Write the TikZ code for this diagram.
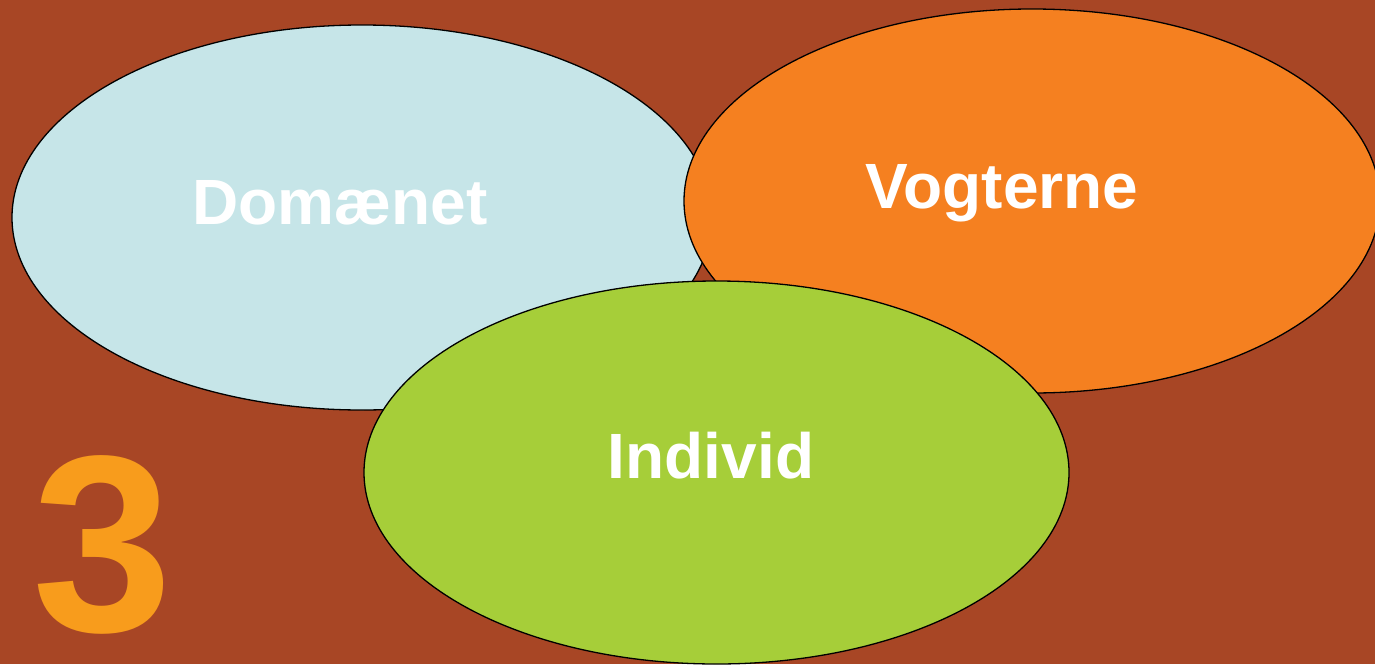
\documentclass[tikz,border=0pt]{standalone}
\usepackage{fontspec}
\setmainfont{Liberation Sans}
\definecolor{bgc}{HTML}{A84625}
\definecolor{bluec}{HTML}{C6E5E8}
\definecolor{orangec}{HTML}{F58020}
\definecolor{greenc}{HTML}{A6CE39}
\definecolor{threec}{HTML}{F89C1C}
\tikzset{
  blob/.style={draw=black, line width=1.3pt},
  lbl/.style={text=white, font=\fontsize{64}{70}\selectfont\bfseries, anchor=base, inner sep=0pt},
}
\begin{document}
\begin{tikzpicture}[x=1pt,y=-1pt]
\fill[bgc] (0,0) rectangle (1375,664);
\useasboundingbox (0,0) rectangle (1375,664);
\begin{scope}
\clip (0,0) rectangle (1375,664);
\path[blob, fill=bluec] (362,217.5) ellipse [x radius=350, y radius=192.5];
\path[blob, fill=orangec] (1032,201) ellipse [x radius=348, y radius=192];
\path[blob, fill=greenc] (716.5,472.5) ellipse [x radius=352.5, y radius=191.5];
\end{scope}
\node[lbl] (dom) at (340,224) {Domænet};
\node[lbl] (vog) at (1002,208) {Vogterne};
\node[lbl] (ind) at (711,478) {Individ};
\node[text=threec, font=\fontsize{252}{252}\selectfont\bfseries, anchor=base, inner sep=0pt] (three) at (103,631) {3};
\end{tikzpicture}
\end{document}
